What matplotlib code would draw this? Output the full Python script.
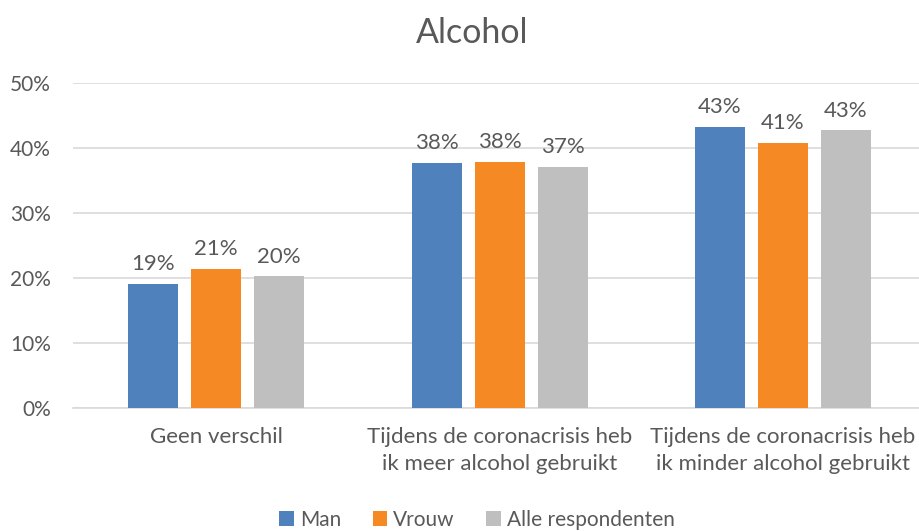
import matplotlib
matplotlib.use("Agg")
import matplotlib.pyplot as plt
from matplotlib.patches import Patch
import numpy as np

categories = ["Geen verschil",
              "Tijdens de coronacrisis heb\nik meer alcohol gebruikt",
              "Tijdens de coronacrisis heb\nik minder alcohol gebruikt"]
series_names = ["Man", "Vrouw", "Alle respondenten"]
values = {
    "Man": [19.1, 37.7, 43.3],
    "Vrouw": [21.45, 37.85, 40.8],
    "Alle respondenten": [20.25, 37.05, 42.7],
}
colors = ["#4F81BD", "#F58A24", "#BFBFBF"]
yticks = [0, 10, 20, 30, 40, 50]

plt.rcParams['font.family'] = ['Lato', 'DejaVu Sans']
txt = "#595959"

fig = plt.figure(figsize=(9.19, 5.31), dpi=100)
ax = fig.add_axes([73/919, 1 - 408/531, (919-73)/919, (408-83)/531])

x = np.arange(len(categories))
bw = 50/283.5
step = 63/283.5
for i, name in enumerate(series_names):
    vals = values[name]
    bars = ax.bar(x + (i-1)*step, vals, width=bw, color=colors[i], zorder=3)
    for b, v in zip(bars, vals):
        ax.text(b.get_x() + b.get_width()/2, v + 1.5, f"{round(v):.0f}%",
                ha="center", va="bottom", fontsize=16, color=txt)

ax.set_xlim(-0.505, 2.48)
ax.set_ylim(0, 50)
ax.set_yticks(yticks)
ax.set_yticklabels([f"{t}%" for t in yticks], fontsize=15, color=txt)
ax.set_xticks(x)
ax.set_xticklabels(categories, fontsize=16, color=txt, linespacing=1.4)
ax.tick_params(axis="both", length=0)
ax.tick_params(axis="y", pad=16)
ax.tick_params(axis="x", pad=14)
ax.grid(axis="y", color="#D9D9D9", linewidth=1.2, zorder=0)
for s in ["top", "right", "left"]:
    ax.spines[s].set_visible(False)
ax.spines["bottom"].set_color("#D9D9D9")
ax.spines["bottom"].set_linewidth(1.2)

fig.text(472/919, 1 - 33/531, "Alcohol", ha="center", va="center", fontsize=24.5, color=txt)

handles = [Patch(facecolor=c, label=n) for c, n in zip(colors, series_names)]
fig.legend(handles=handles, loc="center", bbox_to_anchor=(477/919, 1 - 520/531),
           ncol=3, frameon=False, fontsize=15, handlelength=0.7, handleheight=0.7,
           handletextpad=0.3, columnspacing=1.5, labelcolor=txt)

fig.savefig("out.png", dpi=100)
